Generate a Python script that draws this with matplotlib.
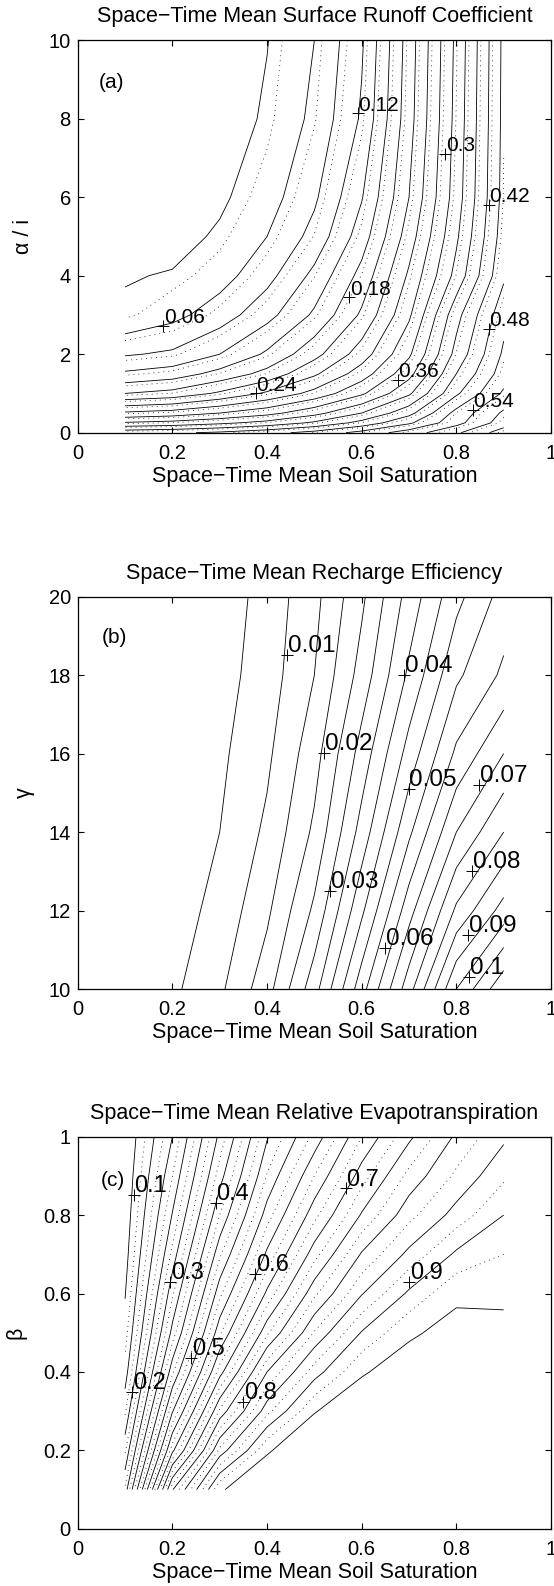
import numpy as np
import matplotlib
matplotlib.use('Agg')
import matplotlib.pyplot as plt

plt.rcParams['font.family'] = ['Liberation Sans', 'DejaVu Sans']
plt.rcParams['font.size'] = 15.5

# ---------------- (a) surface runoff coefficient ----------------
sat_a = [0.1, 0.2, 0.3, 0.4, 0.5, 0.6, 0.7, 0.8, 0.9]
ai_a = [0, 0.25, 0.5, 1, 1.5, 2, 3, 4, 5, 6, 8, 10]
runoff = [
    [0.410, 0.415, 0.425, 0.440, 0.460, 0.490, 0.525, 0.565, 0.615],
    [0.333, 0.340, 0.353, 0.370, 0.395, 0.430, 0.475, 0.530, 0.585],
    [0.275, 0.283, 0.300, 0.320, 0.350, 0.390, 0.440, 0.520, 0.575],
    [0.180, 0.190, 0.215, 0.245, 0.280, 0.325, 0.385, 0.475, 0.545],
    [0.125, 0.135, 0.160, 0.190, 0.235, 0.285, 0.350, 0.450, 0.525],
    [0.087, 0.095, 0.120, 0.155, 0.200, 0.255, 0.325, 0.430, 0.515],
    [0.035, 0.051, 0.075, 0.110, 0.155, 0.215, 0.295, 0.410, 0.500],
    [0.028, 0.032, 0.048, 0.080, 0.128, 0.190, 0.275, 0.370, 0.475],
    [0.015, 0.020, 0.034, 0.060, 0.100, 0.165, 0.255, 0.355, 0.465],
    [0.009, 0.013, 0.025, 0.047, 0.085, 0.148, 0.240, 0.345, 0.460],
    [0.003, 0.006, 0.015, 0.034, 0.067, 0.124, 0.228, 0.340, 0.458],
    [0.002, 0.004, 0.012, 0.029, 0.060, 0.116, 0.224, 0.337, 0.457],
]
runoff_levels = np.arange(1, 21) * 0.03
runoff_dot_shift = 0.009
runoff_lab_val = [0.06, 0.12, 0.18, 0.24, 0.3, 0.36, 0.42, 0.48, 0.54]
runoff_lab_x = [0.181, 0.592, 0.574, 0.376, 0.776, 0.676, 0.868, 0.868, 0.835]
runoff_lab_y = [2.73, 8.14, 3.45, 1.00, 7.11, 1.34, 5.81, 2.64, 0.58]

# ---------------- (b) recharge efficiency ----------------
sat_b = [0.1, 0.2, 0.3, 0.4, 0.5, 0.6, 0.7, 0.8, 0.9]
gamma_b = [10, 12, 14, 16, 18, 20]
recharge = [
    [0, 0.0040, 0.0090, 0.018, 0.033, 0.053, 0.073, 0.095, 0.109],
    [0, 0.0028, 0.0065, 0.014, 0.026, 0.044, 0.063, 0.081, 0.092],
    [0, 0.0018, 0.0050, 0.011, 0.021, 0.037, 0.054, 0.070, 0.080],
    [0, 0.0012, 0.0040, 0.009, 0.018, 0.032, 0.047, 0.061, 0.070],
    [0, 0.0008, 0.0030, 0.0075, 0.015, 0.027, 0.041, 0.054, 0.061],
    [0, 0.0005, 0.0020, 0.007, 0.0135, 0.024, 0.037, 0.0485, 0.057],
]
recharge_levels = np.arange(1, 23) * 0.005
recharge_lab_val = [0.01, 0.02, 0.03, 0.04, 0.05, 0.06, 0.07, 0.08, 0.09, 0.1]
recharge_lab_x = [0.443, 0.520, 0.534, 0.689, 0.699, 0.650, 0.848, 0.834, 0.825, 0.827]
recharge_lab_y = [18.51, 16.01, 12.50, 18.0, 15.1, 11.04, 15.2, 13.02, 11.38, 10.31]

# ---------------- (c) relative evapotranspiration ----------------
sat_c = [0.1, 0.2, 0.3, 0.4, 0.5, 0.6, 0.7, 0.8, 0.9]
beta_c = [0.1, 0.2, 0.3, 0.4, 0.5, 0.6, 0.7, 0.8, 0.9, 1.0]
et = [
    [0.280, 0.747, 0.948, 0.965, 0.970, 0.973, 0.975, 0.976, 0.977],
    [0.220, 0.592, 0.832, 0.948, 0.965, 0.970, 0.972, 0.973, 0.974],
    [0.170, 0.497, 0.730, 0.867, 0.949, 0.963, 0.967, 0.969, 0.970],
    [0.135, 0.419, 0.638, 0.800, 0.888, 0.948, 0.960, 0.963, 0.964],
    [0.113, 0.360, 0.570, 0.720, 0.827, 0.902, 0.947, 0.957, 0.957],
    [0.098, 0.320, 0.518, 0.656, 0.769, 0.848, 0.905, 0.946, 0.945],
    [0.087, 0.283, 0.470, 0.606, 0.715, 0.803, 0.857, 0.905, 0.925],
    [0.080, 0.252, 0.425, 0.563, 0.667, 0.753, 0.817, 0.860, 0.900],
    [0.075, 0.225, 0.388, 0.527, 0.625, 0.713, 0.783, 0.830, 0.870],
    [0.070, 0.200, 0.358, 0.497, 0.583, 0.675, 0.744, 0.805, 0.845],
]
et_levels = np.arange(2, 20) * 0.05
et_dot_levels = np.arange(2, 19) * 0.05 + 0.025
et_lab_val = [0.1, 0.2, 0.3, 0.4, 0.5, 0.6, 0.7, 0.8, 0.9]
et_lab_x = [0.118, 0.115, 0.196, 0.292, 0.240, 0.375, 0.566, 0.350, 0.700]
et_lab_y = [0.851, 0.350, 0.630, 0.832, 0.435, 0.651, 0.868, 0.324, 0.630]


def style_axes(ax, yticks, yticklabels, ylim):
    ax.set_xlim(0, 1)
    ax.set_ylim(*ylim)
    ax.set_xticks([0, 0.2, 0.4, 0.6, 0.8, 1])
    ax.set_xticklabels(['0', '0.2', '0.4', '0.6', '0.8', '1'])
    ax.set_yticks(yticks)
    ax.set_yticklabels(yticklabels)
    ax.tick_params(direction='in', top=True, right=True, length=4, width=0.8,
                   labelsize=14.5)
    ax.tick_params(axis='x', pad=8)
    ax.tick_params(axis='y', pad=5)
    for sp in ax.spines.values():
        sp.set_linewidth(0.9)
    ax.set_xlabel('Space\u2212Time Mean Soil Saturation', fontsize=15.5, labelpad=2)


def put_labels(ax, xs, ys, vals, fs):
    ax.plot(xs, ys, '+', color='k', ms=9, mew=0.7)
    for x, y, v in zip(xs, ys, vals):
        ax.annotate('%g' % v, (x, y), xytext=(0.5, 2), textcoords='offset points',
                    ha='left', va='baseline', fontsize=fs)


fig = plt.figure(figsize=(5.54, 15.86), dpi=100)
ax_a = fig.add_axes([0.1403, 0.7272, 0.8543, 0.2473])
ax_b = fig.add_axes([0.1403, 0.3764, 0.8543, 0.2474])
ax_c = fig.add_axes([0.1403, 0.0361, 0.8543, 0.2472])

dots = (0, (1, 5))

# (a)
Za = np.array(runoff)
ax_a.contour(sat_a, ai_a, Za, levels=runoff_levels, colors='k', linewidths=0.6)
cs = ax_a.contour(sat_a, ai_a, Za, levels=runoff_levels + runoff_dot_shift,
                  colors='k', linewidths=0.6)
cs.set_linestyle(dots)
put_labels(ax_a, runoff_lab_x, runoff_lab_y, runoff_lab_val, 15)
style_axes(ax_a, [0, 2, 4, 6, 8, 10], ['0', '2', '4', '6', '8', '10'], (0, 10))
ax_a.set_title('Space\u2212Time Mean Surface Runoff Coefficient', fontsize=15.5, pad=13)
ax_a.set_ylabel('\u03b1 / i', fontsize=15.5)
ax_a.yaxis.set_label_coords(-0.093, 0.5)
ax_a.text(0.072, 8.92, '(a)', fontsize=15, ha='center', va='center')

# (b)
Zb = np.array(recharge)
ax_b.contour(sat_b, gamma_b, Zb, levels=recharge_levels, colors='k', linewidths=0.6)
put_labels(ax_b, recharge_lab_x, recharge_lab_y, recharge_lab_val, 17.5)
style_axes(ax_b, [10, 12, 14, 16, 18, 20], ['10', '12', '14', '16', '18', '20'], (10, 20))
ax_b.set_title('Space\u2212Time Mean Recharge Efficiency', fontsize=15.5, pad=13)
ax_b.set_ylabel('\u03b3', fontsize=15.5)
ax_b.yaxis.set_label_coords(-0.090, 0.5)
ax_b.text(0.078, 18.95, '(b)', fontsize=15, ha='center', va='center')

# (c)
Zc = np.array(et)
ax_c.contour(sat_c, beta_c, Zc, levels=et_levels, colors='k', linewidths=0.6)
cs = ax_c.contour(sat_c, beta_c, Zc, levels=et_dot_levels, colors='k', linewidths=0.6)
cs.set_linestyle(dots)
put_labels(ax_c, et_lab_x, et_lab_y, et_lab_val, 17)
style_axes(ax_c, [0, 0.2, 0.4, 0.6, 0.8, 1], ['0', '0.2', '0.4', '0.6', '0.8', '1'], (0, 1))
ax_c.set_title('Space\u2212Time Mean Relative Evapotranspiration', fontsize=15.5, pad=13)
ax_c.set_ylabel('\u03b2', fontsize=15.5)
ax_c.yaxis.set_label_coords(-0.109, 0.5)
ax_c.text(0.075, 0.887, '(c)', fontsize=15, ha='center', va='center')

fig.savefig('out.png', dpi=100)
